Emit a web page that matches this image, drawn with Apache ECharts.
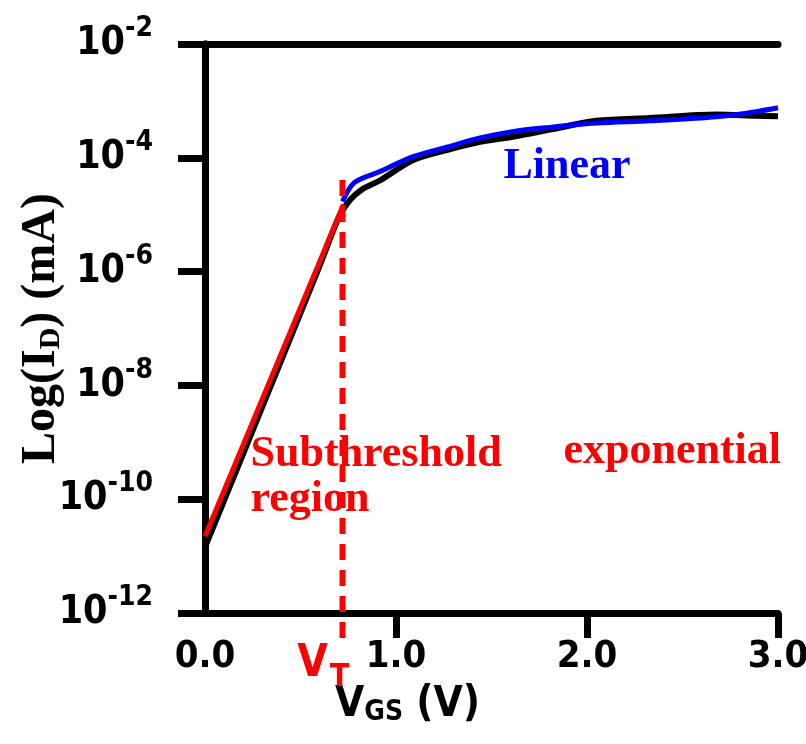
<!DOCTYPE html>
<html><head><meta charset="utf-8">
<script src="https://cdn.jsdelivr.net/npm/echarts@6/dist/echarts.min.js"></script>
<style>html,body{margin:0;padding:0;background:#fff}#c{width:806px;height:744px}</style>
</head><body><div id="c"></div>
<script>
// ---- data (log10 of I_D in mA) ----
const vgsMeasured   = [0, 0.2, 0.4, 0.6, 0.7, 0.76, 0.82, 0.92, 1.09, 1.27, 1.44, 1.61, 1.8, 2.05, 2.33, 2.68, 2.88, 3.0];
const logIdMeasured = [-10.84, -9.2, -7.55, -5.9, -5.05, -4.74, -4.56, -4.39, -4.04, -3.86, -3.72, -3.63, -3.51, -3.35, -3.3, -3.24, -3.26, -3.27];
const vgsLinearFit   = [0.72, 0.78, 0.91, 1.09, 1.27, 1.44, 1.61, 1.79, 2.05, 2.33, 2.68, 2.9, 3.0];
const logIdLinearFit = [-4.77, -4.44, -4.25, -3.98, -3.81, -3.65, -3.54, -3.47, -3.39, -3.35, -3.28, -3.18, -3.12];
const vgsSubthFit   = [0, 0.725];
const logIdSubthFit = [-10.65, -4.82];
const vThreshold = 0.72;
const vtLineLogId = [-4.39, -12.47];
const xTickValues = [0, 1, 2, 3];
const yTickExponents = [-12, -10, -8, -6, -4, -2];
const redNotes = ['Subthreshold', 'region', 'exponential'];
const redNoteV = [0.236, 0.236, 1.874];
const redNoteLogId = [-9.21, -10.0, -9.17];
const blueNotes = ['Linear'];
const blueNoteV = [1.56];
const blueNoteLogId = [-4.16];
const vtLabelV = 0.48;
const vtLabelLogId = -12.9;

const NARROW = "'Liberation Sans Narrow','DejaVu Sans Condensed','Liberation Sans',sans-serif";
const SERIF = "'Liberation Serif','DejaVu Serif',serif";
const p10 = e => Math.pow(10, e);
const zip = (xs, es) => xs.map((x, i) => [x, p10(es[i])]);

const chart = echarts.init(document.getElementById('c'), null, {renderer: 'canvas'});
const yMin = p10(yTickExponents[0]), yMax = p10(yTickExponents[yTickExponents.length - 1]);
const axisLineStyle = {color: '#000', width: 7};
const noteLabel = (color) => ({show: true, position: 'right', distance: 0, align: 'left', verticalAlign: 'middle',
  formatter: p => p.name, color: color, opacity: 1, fontSize: 44, fontWeight: 'bold', fontFamily: SERIF});

chart.setOption({
  animation: false,
  backgroundColor: '#fff',
  grid: {left: 205, right: 28, top: 44, bottom: 131, containLabel: false, outerBoundsMode: 'none'},
  xAxis: [{
    type: 'value', min: xTickValues[0], max: xTickValues[xTickValues.length - 1], interval: 1,
    position: 'bottom',
    axisLine: {show: true, lineStyle: axisLineStyle},
    axisTick: {show: true, inside: false, length: 25, lineStyle: {color: '#000', width: 7}, customValues: xTickValues.slice(1)},
    axisLabel: {margin: 25, fontSize: 38, fontWeight: 'bold', fontFamily: NARROW, color: '#000',
      formatter: v => v.toFixed(1)},
    splitLine: {show: false},
    name: '{v|V}{s|GS}{v| (V)}',
    nameLocation: 'middle', nameGap: 70, nameMoveOverlap: false,
    nameTextStyle: {padding: [0, 168, 0, 0],
      rich: {v: {fontSize: 42, fontWeight: 'bold', fontFamily: NARROW, color: '#000'},
             s: {fontSize: 28, fontWeight: 'bold', fontFamily: NARROW, color: '#000', padding: [16, 0, 0, 0]}}}
  }, {
    type: 'value', min: xTickValues[0], max: xTickValues[xTickValues.length - 1], interval: 1,
    position: 'top',
    axisLine: {show: true, lineStyle: axisLineStyle},
    axisTick: {show: false}, axisLabel: {show: false}, splitLine: {show: false}
  }],
  yAxis: [{
    type: 'log', logBase: 10, min: yMin, max: yMax, interval: 2,
    position: 'left',
    axisLine: {show: true, lineStyle: axisLineStyle},
    axisTick: {show: true, inside: false, length: 27, lineStyle: {color: '#000', width: 7}},
    minorTick: {show: false},
    axisLabel: {margin: 52, color: '#000',
      formatter: v => '{b|10}{s|' + Math.round(Math.log10(v)) + '}',
      rich: {b: {fontSize: 39, fontWeight: 'bold', fontFamily: NARROW, color: '#000'},
             s: {fontSize: 28, fontWeight: 'bold', fontFamily: NARROW, color: '#000', padding: [0, 0, 30, 0]}}},
    splitLine: {show: false},
    name: '{a|Log(I}{d|D}{a|) (mA)}',
    nameLocation: 'middle', nameGap: 139, nameRotate: 90, nameMoveOverlap: false,
    nameTextStyle: {rich: {
      a: {fontSize: 48, fontWeight: 'bold', fontFamily: SERIF, color: '#000'},
      d: {fontSize: 30, fontWeight: 'bold', fontFamily: SERIF, color: '#000', padding: [18, 0, 0, 0]}}}
  }, {
    type: 'log', logBase: 10, min: yMin, max: yMax, interval: 2,
    position: 'right',
    axisLine: {show: true, lineStyle: axisLineStyle},
    axisTick: {show: true, inside: true, length: 24, lineStyle: {color: '#000', width: 7}},
    minorTick: {show: false},
    axisLabel: {show: false}, splitLine: {show: false}
  }],
  series: [{
    name: 'measured', type: 'line', xAxisIndex: 0, yAxisIndex: 0, z: 2,
    data: zip(vgsMeasured, logIdMeasured), showSymbol: false, symbol: 'none', smooth: 0.3,
    lineStyle: {color: '#000', width: 6}
  }, {
    name: 'linear', type: 'line', z: 3,
    data: zip(vgsLinearFit, logIdLinearFit), showSymbol: false, symbol: 'none', smooth: 0.3,
    lineStyle: {color: '#0000ff', width: 5}
  }, {
    name: 'subthreshold', type: 'line', z: 4,
    data: zip(vgsSubthFit, logIdSubthFit), showSymbol: false, symbol: 'none',
    lineStyle: {color: '#ff0000', width: 5}
  }, {
    name: 'VT', type: 'line', z: 5, clip: false,
    data: vtLineLogId.map(e => [vThreshold, p10(e)]), showSymbol: false, symbol: 'none',
    lineStyle: {color: '#ff0000', width: 6, type: [16, 10]}
  }, {
    name: 'redNotes', type: 'scatter', z: 6, clip: false, symbolSize: 1,
    itemStyle: {color: 'rgba(0,0,0,0)', opacity: 1},
    data: redNotes.map((t, i) => ({value: [redNoteV[i], p10(redNoteLogId[i])], name: t})),
    label: noteLabel('#ff0000')
  }, {
    name: 'blueNotes', type: 'scatter', z: 6, clip: false, symbolSize: 1,
    itemStyle: {color: 'rgba(0,0,0,0)', opacity: 1},
    data: blueNotes.map((t, i) => ({value: [blueNoteV[i], p10(blueNoteLogId[i])], name: t})),
    label: noteLabel('#0000ff')
  }, {
    name: 'vtLabel', type: 'scatter', z: 6, clip: false, symbolSize: 1,
    itemStyle: {color: 'rgba(0,0,0,0)', opacity: 1},
    data: [{value: [vtLabelV, p10(vtLabelLogId)], name: 'VT'}],
    label: {show: true, position: 'right', distance: 0, align: 'left', verticalAlign: 'middle', opacity: 1,
      formatter: () => '{v|V}{t|T}',
      rich: {v: {fontSize: 44, fontWeight: 'bold', fontFamily: NARROW, color: '#ff0000'},
             t: {fontSize: 32, fontWeight: 'bold', fontFamily: NARROW, color: '#ff0000', padding: [26, 0, 0, 2]}}}
  }]
});
</script></body></html>
